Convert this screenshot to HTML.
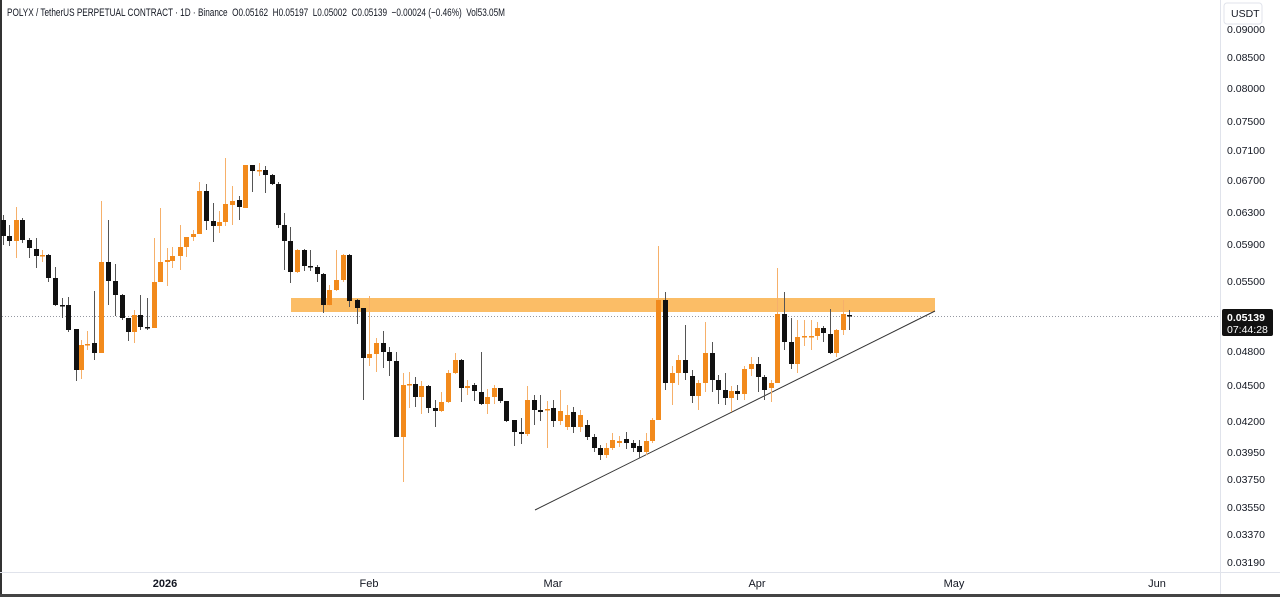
<!DOCTYPE html>
<html><head><meta charset="utf-8">
<style>
html,body{margin:0;padding:0;background:#fff;}
body{width:1280px;height:597px;overflow:hidden;position:relative;font-family:"Liberation Sans",sans-serif;}
svg{position:absolute;left:0;top:0;}
</style></head>
<body>
<svg id="s" width="1280" height="597" viewBox="0 0 1280 597" xmlns="http://www.w3.org/2000/svg">
<rect x="0" y="0" width="1280" height="597" fill="#fff"/>
<rect x="0" y="0" width="2" height="597" fill="#333"/>
<rect x="0" y="594" width="1280" height="3" fill="#444"/>
<line x1="0" y1="572.5" x2="1280" y2="572.5" stroke="#e0e3eb"/>
<line x1="1220.5" y1="0" x2="1220.5" y2="594" stroke="#e0e3eb"/>
<rect x="291" y="298" width="644" height="14" fill="#fbbd66"/>
<line x1="2" y1="316.5" x2="1220" y2="316.5" stroke="#9598a1" stroke-dasharray="1,2"/>
<line x1="535" y1="510" x2="935" y2="311" stroke="#333" stroke-width="1"/>
<g id="c"></g>
<text x="7" y="16" font-size="11" fill="#131722" xml:space="preserve" textLength="498" lengthAdjust="spacingAndGlyphs">POLYX / TetherUS PERPETUAL CONTRACT · 1D · Binance  O0.05162  H0.05197  L0.05002  C0.05139  −0.00024 (−0.46%)  Vol53.05M</text>
<g font-size="10.5" fill="#131722" text-anchor="start">
<text x="1227" y="33">0.09000</text>
<text x="1227" y="61">0.08500</text>
<text x="1227" y="92">0.08000</text>
<text x="1227" y="125">0.07500</text>
<text x="1227" y="154">0.07100</text>
<text x="1227" y="184">0.06700</text>
<text x="1227" y="216">0.06300</text>
<text x="1227" y="248">0.05900</text>
<text x="1227" y="285">0.05500</text>
<text x="1227" y="355">0.04800</text>
<text x="1227" y="389">0.04500</text>
<text x="1227" y="425">0.04200</text>
<text x="1227" y="456">0.03950</text>
<text x="1227" y="483">0.03750</text>
<text x="1227" y="511">0.03550</text>
<text x="1227" y="538">0.03370</text>
<text x="1227" y="566">0.03190</text>
</g>
<rect x="1224" y="3" width="38" height="21" rx="3" fill="#fff" stroke="#e0e3eb"/>
<text x="1231" y="17" font-size="10.5" fill="#131722">USDT</text>
<rect x="1222" y="309" width="51" height="27" rx="2" fill="#111"/>
<text x="1227" y="321" font-size="10.5" fill="#fff" font-weight="bold">0.05139</text>
<text x="1227" y="333" font-size="10.5" fill="#fff">07:44:28</text>
<g font-size="11" fill="#131722" text-anchor="middle">
<text x="165" y="587" font-weight="bold">2026</text>
<text x="369" y="587">Feb</text>
<text x="553" y="587">Mar</text>
<text x="757" y="587">Apr</text>
<text x="954" y="587">May</text>
<text x="1157" y="587">Jun</text>
</g>
</svg>
<script>
var d=[
[3,220,236,215,245],[9,236,241,225,246],[16,241,220,207,258],[22,220,240,218,243],[29,240,248,238,258],[36,249,256,238,268],[42,256,255,250,262],[48,255,278,254,282],[55,278,305,267,306],[62,305,306,298,318],[68,305,330,297,332],[76,329,370,329,381],[81,370,345,340,379],[87,345,344,331,350],[94,343,353,291,360],[101,353,262,201,353],[108,262,281,220,305],[115,281,295,264,316],[122,295,318,294,320],[128,318,332,318,341],[134,332,315,310,343],[140,315,327,295,330],[147,327,328,298,330],[154,328,282,238,328],[160,282,262,208,282],[167,262,260,248,286],[172,261,256,247,268],[180,256,247,225,270],[186,247,237,240,257],[193,237,234,230,241],[199,234,191,182,234],[206,191,221,184,230],[213,221,226,203,242],[219,226,222,211,233],[225,222,204,158,226],[232,205,201,186,225],[239,200,207,196,220],[245,208,165,165,208],[252,165,171,165,192],[259,171,170,163,176],[265,170,175,166,193],[272,175,184,174,185],[278,184,225,182,228],[284,225,241,213,270],[290,241,272,227,283],[297,272,250,249,273],[304,250,266,249,271],[310,266,267,250,271],[317,267,274,265,282],[323,274,305,273,313],[329,305,290,285,306],[336,290,280,250,291],[343,280,255,254,282],[349,255,301,254,307],[357,300,308,299,324],[363,308,358,308,400],[369,358,354,296,366],[376,354,343,338,372],[383,343,352,331,368],[389,352,361,347,376],[396,361,437,352,437],[403,437,385,373,482],[409,385,384,372,408],[415,384,397,377,407],[421,397,386,381,414],[428,386,408,385,413],[435,408,411,400,427],[441,411,402,392,412],[448,402,373,370,403],[455,373,360,353,374],[461,360,388,359,402],[467,388,386,380,395],[474,385,391,383,401],[481,392,404,352,405],[487,404,397,389,414],[494,397,388,385,404],[500,388,401,388,403],[506,401,421,401,422],[514,420,432,420,446],[521,432,434,418,444],[527,434,400,386,436],[534,400,410,395,425],[540,410,412,395,421],[547,410,409,401,448],[553,408,421,400,427],[560,421,411,390,425],[567,427,415,405,430],[573,412,427,407,433],[580,427,415,410,432],[587,425,437,420,440],[594,437,448,434,452],[600,448,455,445,460],[606,455,448,443,458],[612,448,440,433,450],[619,443,441,436,447],[626,439,443,432,449],[633,443,448,440,452],[639,446,452,440,458],[646,452,441,433,455],[652,441,420,418,443],[658,420,300,246,420],[665,300,383,292,390],[672,383,373,366,405],[678,373,360,355,385],[685,360,373,325,380],[692,376,396,370,403],[698,396,383,380,410],[705,383,353,322,392],[712,353,380,342,392],[718,380,390,375,404],[725,390,398,373,405],[731,398,391,386,412],[737,391,394,385,400],[744,394,369,366,400],[751,369,364,357,376],[758,364,377,357,392],[764,377,390,375,400],[771,388,383,380,402],[777,383,314,268,383],[784,314,342,292,350],[791,342,364,318,369],[797,364,337,320,373],[804,337,336,320,346],[811,337,336,320,350],[817,336,328,322,340],[823,328,333,326,342],[830,334,353,309,354],[836,353,330,329,357],[843,330,314,300,335],[849,315,316,310,330]
];
var s='';
for(var i=0;i<d.length;i++){var x=d[i][0],o=d[i][1],c=d[i][2],h=d[i][3],l=d[i][4];
var up=c<o;var bc=up?'#f28a1c':'#111';var wc=up?'#f6b06a':'#555';
var t=Math.min(o,c),b=Math.max(o,c);if(b-t<1.5){b=t+1.5;}
s+='<line x1="'+(x+0.5)+'" y1="'+h+'" x2="'+(x+0.5)+'" y2="'+l+'" stroke="'+wc+'" stroke-width="1"/>';
s+='<rect x="'+(x-2)+'" y="'+t+'" width="5" height="'+(b-t)+'" fill="'+bc+'"/>';}
document.getElementById('c').innerHTML=s;
</script>
</body></html>
